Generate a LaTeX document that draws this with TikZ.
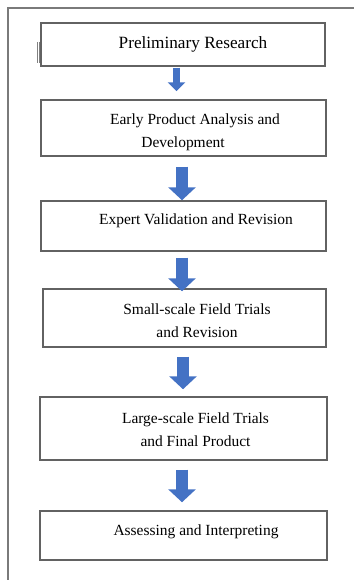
\documentclass[tikz,border=0pt]{standalone}
\usepackage{fontspec}
\setmainfont{Liberation Serif}
\usetikzlibrary{positioning,arrows.meta,calc}
\definecolor{flecha}{HTML}{4472C4}
\definecolor{borde}{HTML}{626262}

\begin{document}
\begin{tikzpicture}[x=0.75pt,y=-0.75pt,
    caja/.style={draw=borde,line width=1.1pt,inner sep=0pt},
    texto/.style={font=\fontsize{11.6}{17}\selectfont,align=center,inner sep=0pt},
    marco/.style={draw=borde!85,line width=0.9pt},
    flechita/.style={flecha,line width=5.25pt,-{Triangle[width=12.75pt,length=6.75pt]}},
    flechota/.style={flecha,line width=9pt,-{Triangle[width=20.25pt,length=9.75pt]}}]
  \useasboundingbox (0,0) rectangle (354,580);
  % outer frame, only top and left edges
  \draw[marco] (8,580) -- (8,8) -- (354,8);
  \draw[borde!80,line width=0.45pt] (37.4,42) -- (37.4,63) (39.2,42) -- (39.2,63);

  % the six stages
  \node[caja,minimum width=213pt,minimum height=32.25pt] (b1) at (183,44.5) {};
  \node[caja,minimum width=213.75pt,minimum height=42pt] (b2) at (183.5,128) {};
  \node[caja,minimum width=213.75pt,minimum height=37.5pt] (b3) at (183.5,226) {};
  \node[caja,minimum width=212.25pt,minimum height=43.5pt] (b4) at (184.5,318) {};
  \node[caja,minimum width=215.25pt,minimum height=47.25pt] (b5) at (183.5,428.5) {};
  \node[caja,minimum width=215.25pt,minimum height=36.75pt] (b6) at (183.5,535.5) {};

  \node[texto,font=\fontsize{12.9}{17}\selectfont] (t1) at (193,44) {Preliminary Research};
  \node[texto] (t2) at (195,132) {Early Product Analysis and\\Development\hspace*{18pt}};
  \node[texto] (t3) at (196,221) {Expert Validation and Revision};
  \node[texto] (t4) at (197,320.5) {Small-scale Field Trials\\and Revision};
  \node[texto] (t5) at (195.5,430) {Large-scale Field Trials\\and Final Product};
  \node[texto] (t6) at (196,532) {Assessing and Interpreting};

  % block arrows between stages, kept vertical
  \draw[flechita,shorten <=0.75pt,shorten >=6pt] ($(b1.south)+(-6.5,0)$) coordinate (s1) -- (s1 |- b2.north);
  \foreach \a/\b/\ini/\fin in {b2/b3/7.5pt/0pt,b3/b4/4.5pt/-2.25pt,b4/b5/6.75pt/5.25pt,b5/b6/6.75pt/6pt}{
    \draw[flechota,shorten <=\ini,shorten >=\fin] ($(\a.south)+(-1.5,0)$) coordinate (s) -- (s |- \b.north);
  }
\end{tikzpicture}
\end{document}
